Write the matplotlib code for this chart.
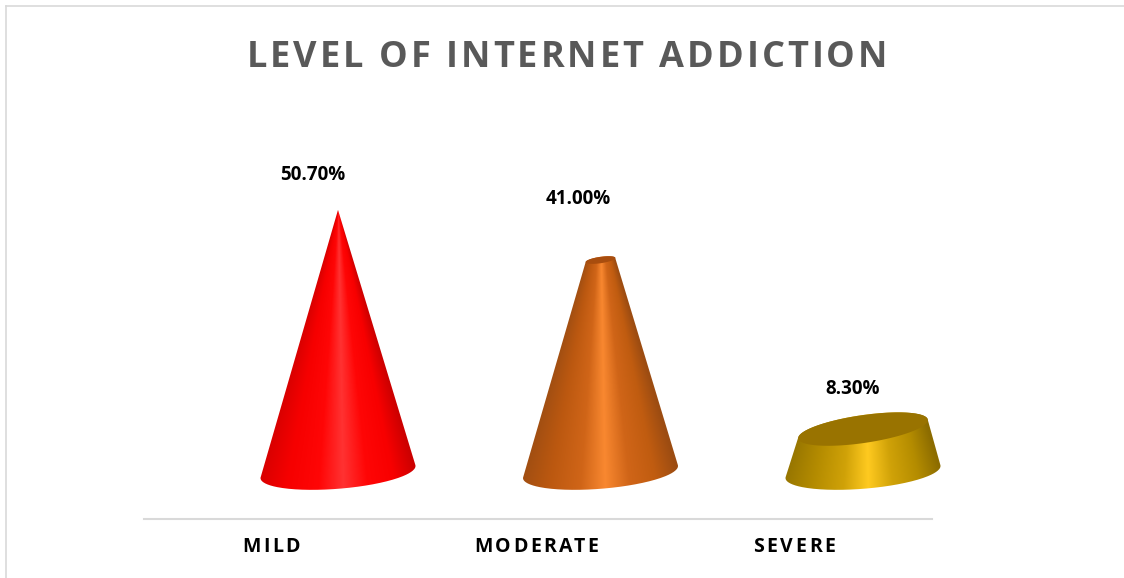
import numpy as np
import matplotlib
matplotlib.use("Agg")
import matplotlib.pyplot as plt
from matplotlib.colors import LinearSegmentedColormap
from matplotlib.lines import Line2D
from matplotlib.patches import PathPatch, Polygon
from matplotlib.path import Path
from matplotlib.text import Text
from matplotlib.transforms import IdentityTransform

categories = ["MILD", "MODERATE", "SEVERE"]
values = [50.7, 41.0, 8.3]
value_labels = ["50.70%", "41.00%", "8.30%"]
title = "LEVEL OF INTERNET ADDICTION"

W, H = 1124, 578
plt.rcParams["font.family"] = ["Open Sans", "DejaVu Sans"]
fig = plt.figure(figsize=(W / 100, H / 100), dpi=100, facecolor="white")


class TrackedText(Text):
    """A single text artist, holding its whole string, drawn with letter spacing."""
    tracking = 0.0

    def draw(self, renderer):
        if not self.get_visible() or not self.get_text():
            return
        s = self.get_text()
        prop = self.get_fontproperties()
        width = lambda t: renderer.get_text_width_height_descent(t, prop, False)[0]
        x, y = self.get_transform().transform(self.get_unitless_position())
        total = width(s) + self.tracking * (len(s) - 1)
        left = x - total / 2
        for k, ch in enumerate(s):
            if ch == " ":
                continue
            cx = left + width(s[:k + 1]) - width(ch) + self.tracking * k
            g = Text(cx, y, ch, transform=IdentityTransform(), ha="left", va="baseline",
                     fontproperties=prop, color=self.get_color())
            g.set_figure(self.get_figure())
            g.draw(renderer)


# axes: pixel box x 144..932, y 100..519; one category = 262.5 px, 1 % = 5.17 px
ax = fig.add_axes([144 / W, 1 - 519 / H, (932 - 144) / W, (519 - 100) / H])
PX_X, PX_Y = 262.5, 5.17
ax.set_xlim(-(338 - 144) / PX_X, 2 + (932 - 863) / PX_X)
ax.set_ylim(-(519 - 472) / PX_Y, (472 - 100) / PX_Y)
for s in ["top", "left", "right"]:
    ax.spines[s].set_visible(False)
ax.spines["bottom"].set_color("#d9d9d9")
ax.spines["bottom"].set_linewidth(1.5)
ax.set_yticks([])
ax.set_xticks(np.arange(len(categories)) + np.array([-0.255, -0.245, -0.262]))
ax.set_xticklabels(categories, fontsize=14, fontweight="bold", color="black")
ax.tick_params(axis="x", length=0, pad=23.8)
for lab in ax.get_xticklabels():
    lab.__class__ = TrackedText
    lab.tracking = 2.6
    lab.set_va("baseline")

R = 77.5 / PX_X          # base radius in category units
RY = 16.8 / PX_Y         # base ellipse semi-minor
TILT = 6.0 / PX_Y        # base ellipse tilt
PEAK = max(values)

styles = [
    dict(stops=["#d80000", "#f60000", "#ff0606", "#ff3232", "#ff0606", "#f80000", "#cc0000"], top="#c00000"),
    dict(stops=["#a04e12", "#bb5810", "#d06518", "#f98830", "#d06518", "#c05c10", "#9c4c12"], top="#a84d0e"),
    dict(stops=["#967500", "#b28a00", "#d0a208", "#ffca20", "#d0a208", "#b48c00", "#8c6c00"], top="#997300"),
]
POS = [0.0, 0.18, 0.38, 0.53, 0.68, 0.85, 1.0]


def ellipse(xc, v, frac, tilt):
    t = np.linspace(0, 2 * np.pi, 240)
    return xc + R * frac * np.cos(t), v + RY * frac * np.sin(t) + tilt * np.cos(t)


def hull(points):
    pts = sorted(set(map(tuple, points)))
    def half(seq):
        out = []
        for p in seq:
            while len(out) > 1 and ((out[-1][0] - out[-2][0]) * (p[1] - out[-2][1])
                                    - (out[-1][1] - out[-2][1]) * (p[0] - out[-2][0])) <= 0:
                out.pop()
            out.append(p)
        return out[:-1]
    return np.array(half(pts) + half(pts[::-1]))


for i, (val, st) in enumerate(zip(values, styles)):
    frac = 1 - val / PEAK
    bx, by = ellipse(i, 0, 1, TILT)
    tx, ty = ellipse(i, val, frac, TILT * 1.8 * frac)
    outline = hull(np.vstack([np.c_[bx, by], np.c_[tx, ty]]))
    clip = PathPatch(Path(np.vstack([outline, outline[0]])), transform=ax.transData,
                     facecolor="none", edgecolor="none", clip_on=False)
    ax.add_patch(clip)

    x0, x1 = i - R * 1.05, i + R * 1.05
    y0, y1 = -RY * 1.3, val + RY * 1.3 * max(frac, 0.05)
    gx, gy = np.meshgrid(np.linspace(x0, x1, 400), np.linspace(y0, y1, 500))
    radius = np.maximum(R * (1 - gy / PEAK), 1e-4)
    u = np.clip((gx - i) / radius, -1, 1) * 0.5 + 0.5
    cmap = LinearSegmentedColormap.from_list("shade", list(zip(POS, st["stops"])))
    im = ax.imshow(u, extent=(x0, x1, y0, y1), origin="lower", cmap=cmap, vmin=0, vmax=1,
                   aspect="auto", interpolation="bilinear", zorder=2)
    im.set_clip_path(clip)
    im.set_clip_box(fig.bbox)
    if frac > 0:
        ax.add_patch(Polygon(np.c_[tx, ty], closed=True, facecolor=st["top"],
                             edgecolor="none", zorder=3, clip_on=False))

offsets = [(-25, 35), (-22, 61), (-10, 40)]
for i, (val, lab, off) in enumerate(zip(values, value_labels, offsets)):
    ax.annotate(lab, xy=(i, val), xytext=(off[0] * 0.72, off[1] * 0.72),
                textcoords="offset points", ha="center", va="center",
                fontsize=13.5, fontweight="bold", color="black", annotation_clip=False)

ttl = TrackedText(567 / W, 1 - 67 / H, title, ha="center", va="baseline", fontsize=26,
                  fontweight="bold", color="#595959", transform=fig.transFigure)
ttl.tracking = 3.0
fig.add_artist(ttl)

fig.add_artist(Line2D([6 / W, 1], [1 - 6 / H, 1 - 6 / H], color="#d9d9d9", lw=1.2))
fig.add_artist(Line2D([6 / W, 6 / W], [0, 1 - 6 / H], color="#d9d9d9", lw=1.2))

fig.savefig("out.png", dpi=100)
